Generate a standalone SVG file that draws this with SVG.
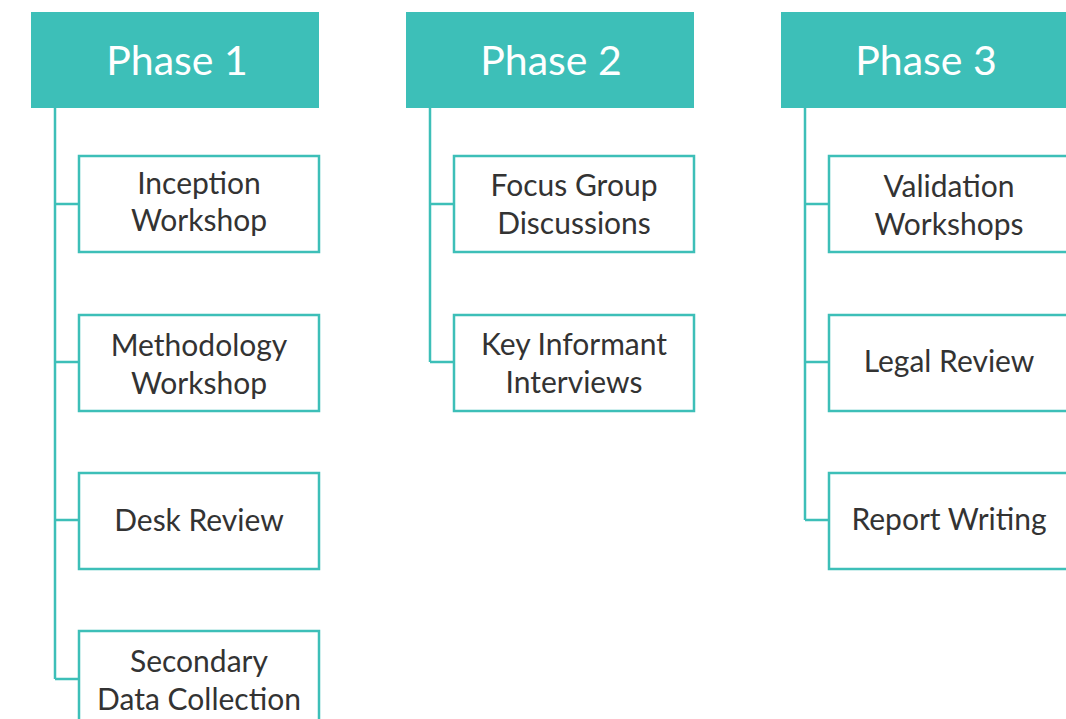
<svg xmlns="http://www.w3.org/2000/svg" width="1066" height="719" viewBox="0 0 1066 719">
  <style>
    .head { fill: #3dbfb8; }
    .head-text { fill: #ffffff; font-family: Lato, "Open Sans", sans-serif; font-size: 41px; text-anchor: middle; }
    .item { fill: #ffffff; stroke: #3dbfb8; stroke-width: 2.5; }
    .item-text { fill: #333333; font-family: Lato, "Open Sans", sans-serif; font-size: 30px; text-anchor: middle; }
    .link { fill: none; stroke: #3dbfb8; stroke-width: 2.5; }
  </style>
  <rect width="1066" height="719" fill="#ffffff"/>

  <!-- tree connectors -->
  <g id="connectors">
    <path class="link" d="M55 108 V679 M55 204 H79 M55 362 H79 M55 520 H79 M55 679 H79"/>
    <path class="link" d="M430 108 V362 M430 204 H454 M430 362 H454"/>
    <path class="link" d="M805 108 V520 M805 204 H829 M805 362 H829 M805 520 H829"/>
  </g>

  <!-- Phase 1 -->
  <g id="phase1">
    <rect class="head" x="31" y="12" width="288" height="96"/>
    <text class="head-text" x="177" y="75">Phase 1</text>
  </g>
  <g id="inception-workshop">
    <rect class="item" x="79" y="156" width="240" height="96"/>
    <text class="item-text" x="199" y="194">Inception</text>
    <text class="item-text" x="199" y="231">Workshop</text>
  </g>
  <g id="methodology-workshop">
    <rect class="item" x="79" y="315" width="240" height="96"/>
    <text class="item-text" x="199" y="356">Methodology</text>
    <text class="item-text" x="199" y="394">Workshop</text>
  </g>
  <g id="desk-review">
    <rect class="item" x="79" y="473" width="240" height="96"/>
    <text class="item-text" x="199" y="531">Desk Review</text>
  </g>
  <g id="secondary-data-collection">
    <rect class="item" x="79" y="631" width="240" height="96"/>
    <text class="item-text" x="199" y="672">Secondary</text>
    <text class="item-text" x="199" y="710">Data Collection</text>
  </g>

  <!-- Phase 2 -->
  <g id="phase2">
    <rect class="head" x="406" y="12" width="288" height="96"/>
    <text class="head-text" x="551" y="75">Phase 2</text>
  </g>
  <g id="focus-group-discussions">
    <rect class="item" x="454" y="156" width="240" height="96"/>
    <text class="item-text" x="574" y="196">Focus Group</text>
    <text class="item-text" x="574" y="234">Discussions</text>
  </g>
  <g id="key-informant-interviews">
    <rect class="item" x="454" y="315" width="240" height="96"/>
    <text class="item-text" x="574" y="355">Key Informant</text>
    <text class="item-text" x="574" y="393">Interviews</text>
  </g>

  <!-- Phase 3 -->
  <g id="phase3">
    <rect class="head" x="781" y="12" width="288" height="96"/>
    <text class="head-text" x="926" y="75">Phase 3</text>
  </g>
  <g id="validation-workshops">
    <rect class="item" x="829" y="156" width="240" height="96"/>
    <text class="item-text" x="949" y="197">Validation</text>
    <text class="item-text" x="949" y="235">Workshops</text>
  </g>
  <g id="legal-review">
    <rect class="item" x="829" y="315" width="240" height="96"/>
    <text class="item-text" x="949" y="372">Legal Review</text>
  </g>
  <g id="report-writing">
    <rect class="item" x="829" y="473" width="240" height="96"/>
    <text class="item-text" x="949" y="530">Report Writing</text>
  </g>
</svg>
